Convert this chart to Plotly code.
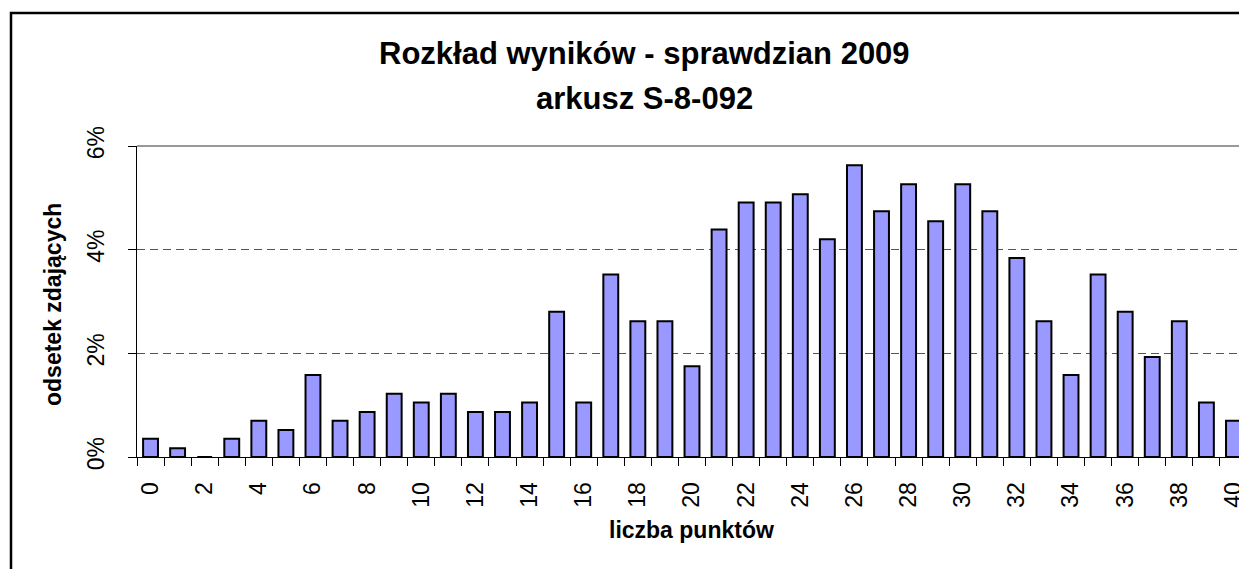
import plotly.graph_objects as go

# liczba punktów 0..40
punkty = list(range(41))
# odsetek zdających [%]
odsetek = [0.35, 0.17, 0.0, 0.35, 0.70, 0.52, 1.58, 0.70, 0.87, 1.22,
           1.05, 1.22, 0.87, 0.87, 1.05, 2.80, 1.05, 3.52, 2.62, 2.62,
           1.75, 4.39, 4.91, 4.91, 5.07, 4.20, 5.63, 4.74, 5.26, 4.55,
           5.26, 4.74, 3.84, 2.62, 1.58, 3.52, 2.80, 1.93, 2.62, 1.05,
           0.70]
tick_labels = [str(p) if p % 2 == 0 else "" for p in punkty]

FONT = "Arial, Liberation Sans, sans-serif"

# page body has an 8px margin, so work in screen pixels and shift
OFF = 8
FIG_W, FIG_H = 1247 - OFF, 569 - OFF
# plot area in screen pixels
L, R, T, B = 137, 1247, 146, 457
W, H = R - L, B - T


def px(x):
    return (x - L) / W


def py(y):
    return (B - y) / H


fig = go.Figure(
    data=[
        go.Bar(
            x=[str(p) for p in punkty],
            y=odsetek,
            width=0.55,
            marker=dict(color="#9999FF", line=dict(color="black", width=2)),
            showlegend=False,
        )
    ]
)

fig.update_layout(
    width=FIG_W,
    height=FIG_H,
    margin=dict(l=L - OFF, r=0, t=T - OFF, b=FIG_H - (B - OFF)),
    paper_bgcolor="white",
    plot_bgcolor="white",
    font=dict(family=FONT, color="black"),
    xaxis=dict(
        type="category",
        tickvals=[str(p) for p in punkty],
        ticktext=tick_labels,
        tickson="boundaries",
        ticks="outside",
        ticklen=8,
        tickcolor="black",
        tickangle=-90,
        tickfont=dict(size=23),
        ticklabelstandoff=15,
        showline=True,
        linecolor="black",
        linewidth=1,
        showgrid=False,
    ),
    yaxis=dict(
        range=[0, 6],
        dtick=2,
        ticksuffix="%",
        ticks="outside",
        ticklen=8,
        tickcolor="black",
        tickangle=-90,
        tickfont=dict(size=23),
        ticklabelstandoff=15,
        showline=True,
        linecolor="black",
        linewidth=1,
        showgrid=True,
        gridcolor="#555555",
        griddash="8px,5px",
        gridwidth=1,
        zeroline=False,
    ),
    shapes=[
        # top border of plot area
        dict(type="line", xref="paper", yref="paper", x0=0, x1=1, y0=1, y1=1,
             line=dict(color="#999999", width=2)),
        # outer chart frame
        dict(type="rect", xref="paper", yref="paper",
             x0=px(11), x1=px(1300), y0=py(13), y1=py(620),
             line=dict(color="black", width=2.5)),
    ],
    annotations=[
        dict(text="<b>Rozkład wyników - sprawdzian 2009</b>", xref="paper", yref="paper",
             x=px(644), y=py(53), yanchor="middle", showarrow=False, font=dict(size=31)),
        dict(text="<b>arkusz S-8-092</b>", xref="paper", yref="paper",
             x=px(644), y=py(98), yanchor="middle", showarrow=False, font=dict(size=31)),
        dict(text="<b>odsetek zdających</b>", xref="paper", yref="paper",
             x=px(53), y=py(305), xanchor="center", yanchor="middle",
             showarrow=False, textangle=-90, font=dict(size=23)),
        dict(text="<b>liczba punktów</b>", xref="paper", yref="paper",
             x=px(691), y=py(530), yanchor="middle", showarrow=False, font=dict(size=23)),
    ],
)

fig.write_html("out.html")
